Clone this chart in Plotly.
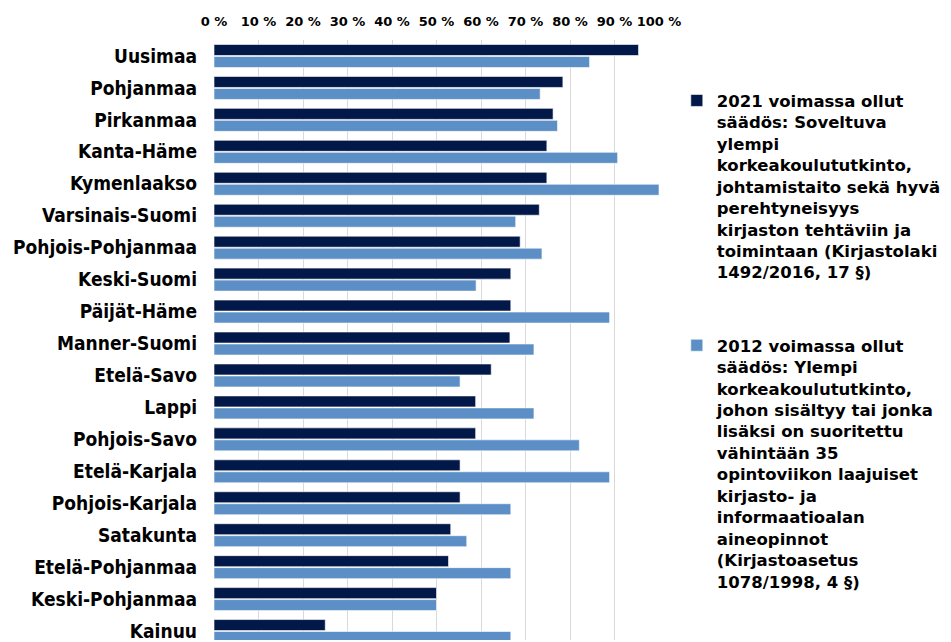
import plotly.graph_objects as go

regions = ["Uusimaa", "Pohjanmaa", "Pirkanmaa", "Kanta-Häme", "Kymenlaakso",
           "Varsinais-Suomi", "Pohjois-Pohjanmaa", "Keski-Suomi", "Päijät-Häme",
           "Manner-Suomi", "Etelä-Savo", "Lappi", "Pohjois-Savo", "Etelä-Karjala",
           "Pohjois-Karjala", "Satakunta", "Etelä-Pohjanmaa", "Keski-Pohjanmaa", "Kainuu"]

values_2021 = [95.4, 78.4, 76.2, 74.8, 74.8, 73.1, 68.8, 66.7, 66.7, 66.5,
               62.3, 58.8, 58.8, 55.3, 55.3, 53.2, 52.7, 50.0, 25.0]
values_2012 = [84.4, 73.3, 77.2, 90.7, 100.0, 67.8, 73.7, 58.9, 88.9, 71.9,
               55.3, 71.9, 82.1, 88.9, 66.7, 56.8, 66.7, 50.0, 66.7]

name_2021 = ("2021 voimassa ollut<br>säädös: Soveltuva<br>ylempi<br>korkeakoulututkinto,"
             "<br>johtamistaito sekä hyvä<br>perehtyneisyys<br>kirjaston tehtäviin ja"
             "<br>toimintaan (Kirjastolaki<br>1492/2016, 17 §)")
name_2012 = ("2012 voimassa ollut<br>säädös: Ylempi<br>korkeakoulututkinto,"
             "<br>johon sisältyy tai jonka<br>lisäksi on suoritettu<br>vähintään 35"
             "<br>opintoviikon laajuiset<br>kirjasto- ja<br>informaatioalan<br>aineopinnot"
             "<br>(Kirjastoasetus<br>1078/1998, 4 §)")

tick_vals = [0, 10, 20, 30, 40, 50, 60, 70, 80, 90, 100]
tick_text = ["0 %", "10 %", "20 %", "30 %", "40 %", "50 %", "60 %", "70 %", "80 %", "90 %", "100 %"]

DARK = "#021849"
LIGHT = "#5b8fc5"

fig = go.Figure()
fig.add_trace(go.Bar(y=regions, x=values_2021, orientation="h", name=name_2021,
                     marker=dict(color=DARK, line=dict(color="#ffffff", width=0.6)),
                     legend="legend"))
fig.add_trace(go.Bar(y=regions, x=values_2012, orientation="h", name=name_2012,
                     marker=dict(color=LIGHT, line=dict(color="#ffffff", width=0.6)),
                     legend="legend2"))

legend_font = dict(family="DejaVu Sans", size=16.5, color="#000000", weight="bold")

fig.update_layout(
    width=951, height=642,
    margin=dict(l=214, r=292, t=40, b=0),
    paper_bgcolor="white", plot_bgcolor="white",
    barmode="group", bargap=0.25, bargroupgap=0.08,
    xaxis=dict(side="top", range=[0, 100], tickvals=tick_vals, ticktext=tick_text,
               showgrid=True, gridcolor="#d9d9d9", gridwidth=1, zeroline=False,
               showline=False, ticks="", ticklabelstandoff=10,
               tickfont=dict(family="DejaVu Sans", size=13, color="#000000", weight="bold")),
    yaxis=dict(type="category", range=[18.28, -0.5], showgrid=False, ticks="",
               showline=False, ticklabelstandoff=16,
               tickfont=dict(family="DejaVu Sans Condensed, Liberation Sans Narrow, DejaVu Sans",
                             size=19, color="#000000", weight="bold")),
    legend=dict(x=1.040, y=0.928, xanchor="left", yanchor="top", font=legend_font,
                bgcolor="rgba(0,0,0,0)", valign="top"),
    legend2=dict(x=1.040, y=0.520, xanchor="left", yanchor="top", font=legend_font,
                 bgcolor="rgba(0,0,0,0)", valign="top"),
    showlegend=True,
)

fig.write_html("out.html")
